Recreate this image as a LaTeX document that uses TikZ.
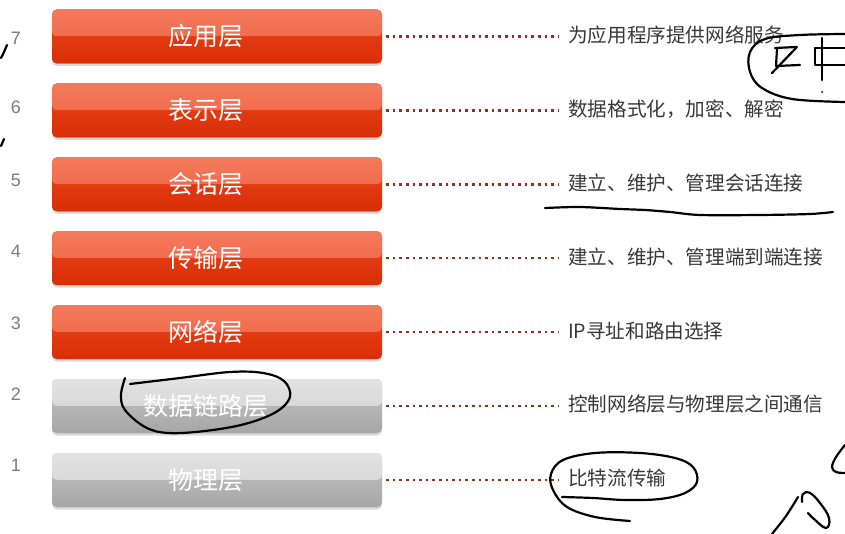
\documentclass[tikz,border=0pt]{standalone}
\usepackage{fontspec}
\setmainfont{Noto Sans CJK SC}
\newfontfamily\numfont{Liberation Sans}
\usetikzlibrary{shadows}
\definecolor{redtop}{HTML}{F47A5C}
\definecolor{redmid}{HTML}{EE5E40}
\definecolor{redlow}{HTML}{E23A12}
\definecolor{reddark}{HTML}{D92E06}
\definecolor{graytop}{HTML}{E2E2E2}
\definecolor{graymid}{HTML}{CFCFCF}
\definecolor{graylow}{HTML}{B6B6B6}
\definecolor{graydark}{HTML}{A6A6A6}
\definecolor{dotred}{HTML}{962C1E}
\definecolor{desctext}{HTML}{383838}
\definecolor{numgray}{HTML}{7C7C7C}
\begin{document}
\begin{tikzpicture}[x=1pt,y=-1pt,
  bar/.style={rounded corners=5pt, minimum width=330pt, minimum height=54pt, inner sep=0pt,
    drop shadow={shadow xshift=0pt, shadow yshift=-2.5pt, opacity=0.3}},
  redbar/.style={bar, fill=redlow, path picture={
    \shade[top color=redtop,bottom color=redmid] (path picture bounding box.north west) rectangle (path picture bounding box.east);
    \shade[top color=redlow,bottom color=reddark] (path picture bounding box.west) rectangle (path picture bounding box.south east);}},
  graybar/.style={bar, fill=graylow, path picture={
    \shade[top color=graytop,bottom color=graymid] (path picture bounding box.north west) rectangle (path picture bounding box.east);
    \shade[top color=graylow,bottom color=graydark] (path picture bounding box.west) rectangle (path picture bounding box.south east);}},
  barlabel/.style={text=white, inner sep=0pt, font=\fontsize{25}{25}\selectfont},
  desc/.style={text=desctext, anchor=west, inner sep=2pt, font=\fontsize{19.6}{19.6}\selectfont},
  num/.style={text=numgray, inner sep=0pt, font=\numfont\fontsize{18}{18}\selectfont},
  dots/.style={draw=dotred, line width=2.6pt, dash pattern=on 2.6pt off 4pt},
  hand/.style={draw=black, line width=2.2pt, line cap=round, line join=round}]
\useasboundingbox[fill=white] (0,0) rectangle (845,534);
\foreach \i/\y/\ny/\nm/\d/\s in {
  7/36.5/38.5/应用层/为应用程序提供网络服务/redbar,
  6/110.4/107.5/表示层/数据格式化，加密、解密/redbar,
  5/184.3/180/会话层/建立、维护、管理会话连接/redbar,
  4/258.2/251.5/传输层/建立、维护、管理端到端连接/redbar,
  3/332.1/323.5/网络层/IP寻址和路由选择/redbar,
  2/406/394/数据链路层/控制网络层与物理层之间通信/graybar,
  1/480/465/物理层/比特流传输/graybar}{
  \node[\s] (b\i) at (217,\y) {};
  \node[barlabel] (l\i) at (206,\y) {\nm};
  \node[num] (n\i) at (16,\ny) {\i};
  \node[desc] (d\i) at (566,\y-1.5) {\d};
  \draw[dots] ([xshift=4pt]b\i.east) -- ([xshift=-8pt]b\i.east -| d\i.west);
}
% handwritten marks
\draw[hand] plot[smooth] coordinates {(1,58) (4,52) (7,45)};
\draw[hand] plot[smooth] coordinates {(1,146) (4,139)};
\draw[hand] plot[smooth, tension=0.6] coordinates {(845,34) (800,35) (765,39) (750,52) (750,72) (762,88) (792,99) (845,102)};
\draw[hand] (775,48) -- (797,47);
\draw[hand] (777,49) -- (776,66) -- (800,65);
\draw[hand] (772,73) -- (796,48);
\draw[hand] (822,38) -- (822,80);
\draw[hand] (815,48) -- (815,65) -- (845,65);
\draw[hand] (815,48) -- (845,48);
\fill (822,92) circle (1pt);
\draw[hand] plot[smooth, tension=0.5] coordinates {(545,208) (580,207) (620,209) (645,210) (670,212) (700,215) (760,215) (810,214) (833,212)};
\draw[hand] plot[smooth, tension=0.6] coordinates {(125,378) (121,395) (125,410) (145,427) (168,433) (205,431) (245,424) (276,412) (290,397) (284,381) (263,373) (230,372) (180,378) (130,384)};
\draw[hand] plot[smooth, tension=0.6] coordinates {(562,497) (593,498) (625,500) (660,499) (685,493) (697,482) (693,467) (675,458) (640,453) (595,453) (563,460) (551,474) (553,490) (567,507) (595,517) (630,521)};
\draw[hand] plot[smooth, tension=0.6] coordinates {(845,445) (836,457) (832,467) (836,472) (845,473)};
\draw[hand] plot[smooth, tension=0.6] coordinates {(772,534) (786,516) (798,497)};
\draw[hand] plot[smooth, tension=0.7] coordinates {(802,502) (803,494) (810,493) (820,503) (829,518) (826,528) (814,519) (808,513)};
\end{tikzpicture}
\end{document}
